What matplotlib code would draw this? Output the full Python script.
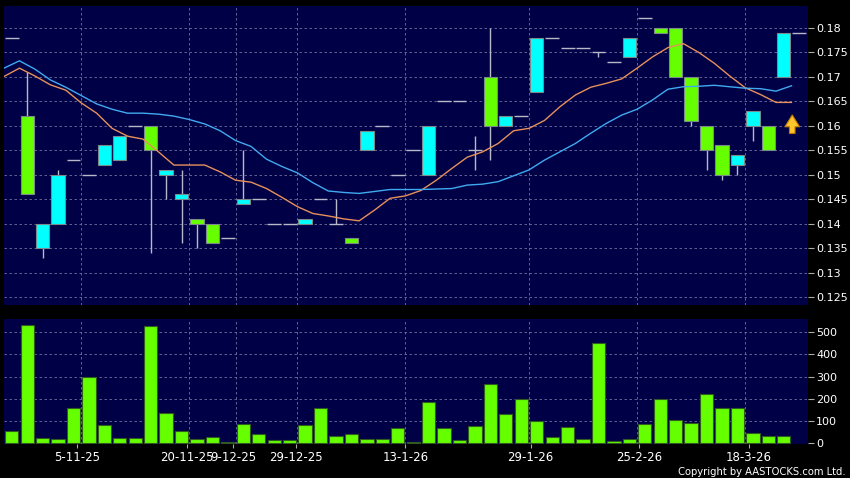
import matplotlib
matplotlib.use("Agg")
import matplotlib.pyplot as plt
import numpy as np

# ---------------- data ----------------
opens = [0.178, 0.162, 0.135, 0.140, 0.153, 0.150, 0.152, 0.153, 0.160, 0.160,
         0.150, 0.145, 0.141, 0.140, 0.137, 0.144, 0.145, 0.140, 0.140, 0.140,
         0.145, 0.140, 0.137, 0.155, 0.160, 0.150, 0.155, 0.150, 0.165, 0.165,
         0.155, 0.170, 0.160, 0.162, 0.167, 0.178, 0.176, 0.176, 0.175, 0.173,
         0.174, 0.182, 0.180, 0.180, 0.170, 0.160, 0.156, 0.152, 0.160, 0.160,
         0.170, 0.179]
highs = [0.178, 0.171, 0.140, 0.151, 0.153, 0.150, 0.156, 0.158, 0.160, 0.160,
         0.151, 0.151, 0.141, 0.140, 0.137, 0.155, 0.145, 0.140, 0.140, 0.141,
         0.145, 0.145, 0.137, 0.159, 0.160, 0.150, 0.155, 0.160, 0.165, 0.165,
         0.158, 0.180, 0.162, 0.162, 0.178, 0.178, 0.176, 0.176, 0.175, 0.173,
         0.178, 0.182, 0.180, 0.180, 0.170, 0.160, 0.156, 0.154, 0.163, 0.160,
         0.179, 0.179]
lows = [0.178, 0.146, 0.133, 0.140, 0.153, 0.150, 0.152, 0.153, 0.160, 0.134,
        0.145, 0.136, 0.135, 0.136, 0.137, 0.144, 0.145, 0.140, 0.140, 0.140,
        0.145, 0.140, 0.136, 0.155, 0.160, 0.150, 0.155, 0.150, 0.165, 0.165,
        0.151, 0.153, 0.160, 0.162, 0.167, 0.178, 0.176, 0.176, 0.174, 0.173,
        0.174, 0.182, 0.179, 0.170, 0.160, 0.151, 0.149, 0.150, 0.157, 0.155,
        0.170, 0.179]
closes = [0.178, 0.146, 0.140, 0.150, 0.153, 0.150, 0.156, 0.158, 0.160, 0.155,
          0.151, 0.146, 0.140, 0.136, 0.137, 0.145, 0.145, 0.140, 0.140, 0.141,
          0.145, 0.140, 0.136, 0.159, 0.160, 0.150, 0.155, 0.160, 0.165, 0.165,
          0.155, 0.160, 0.162, 0.162, 0.178, 0.178, 0.176, 0.176, 0.175, 0.173,
          0.178, 0.182, 0.179, 0.170, 0.161, 0.155, 0.150, 0.154, 0.163, 0.155,
          0.179, 0.179]
volumes = [55, 530, 24, 19, 160, 299, 82, 24, 24, 527,
           135, 55, 19, 28, 6, 87, 40, 15, 15, 82,
           160, 33, 40, 21, 21, 69, 7, 184, 69, 16,
           79, 266, 132, 200, 100, 28, 72, 19, 450, 10,
           19, 87, 200, 105, 93, 223, 160, 160, 48, 33, 33]
# moving averages (sampled between candles, starting half a slot before the first)
ma_short = [0.1701, 0.1718, 0.1702, 0.1684, 0.1673, 0.1647, 0.1626, 0.1595, 0.1579, 0.1573,
            0.1547, 0.1520, 0.1520, 0.1520, 0.1506, 0.1489, 0.1485, 0.1472, 0.1454, 0.1435,
            0.1421, 0.1416, 0.1410, 0.1406, 0.1428, 0.1452, 0.1457, 0.1468, 0.1489, 0.1513,
            0.1536, 0.1547, 0.1564, 0.1590, 0.1595, 0.1611, 0.1639, 0.1663, 0.1679, 0.1687,
            0.1696, 0.1718, 0.1741, 0.1760, 0.1768, 0.1750, 0.1728, 0.1702, 0.1678, 0.1664,
            0.1648, 0.1648]
ma_long = [0.1718, 0.1733, 0.1716, 0.1694, 0.1679, 0.1662, 0.1645, 0.1634, 0.1626, 0.1626,
           0.1624, 0.1620, 0.1613, 0.1604, 0.1590, 0.1570, 0.1558, 0.1532, 0.1517, 0.1504,
           0.1484, 0.1467, 0.1464, 0.1462, 0.1466, 0.1470, 0.1470, 0.1470, 0.1471, 0.1472,
           0.1479, 0.1481, 0.1486, 0.1498, 0.1510, 0.1530, 0.1547, 0.1564, 0.1585, 0.1605,
           0.1622, 0.1634, 0.1653, 0.1675, 0.1680, 0.1681, 0.1683, 0.1680, 0.1677, 0.1676,
           0.1671, 0.1682]
date_labels = ["5-11-25", "20-11-25", "9-12-25", "29-12-25", "13-1-26", "29-1-26", "25-2-26", "18-3-26"]
date_pos = [4.25, 11.37, 14.35, 18.43, 25.49, 33.6, 40.63, 47.73]
grid_pos = [4.5, 11.5, 14.5, 18.5, 25.5, 33.5, 40.5, 47.5]
price_ticks = [0.125, 0.13, 0.135, 0.14, 0.145, 0.15, 0.155, 0.16, 0.165, 0.17, 0.175, 0.18]
price_tick_labels = ["0.125", "0.13", "0.135", "0.14", "0.145", "0.15", "0.155", "0.16",
                     "0.165", "0.17", "0.175", "0.18"]
vol_ticks = [0, 100, 200, 300, 400, 500]

# ---------------- style ----------------
BG = "#000046"
UP = "#00ffff"
DOWN = "#66ff00"
GRID = "#70709e"
TXT = "#ffffff"

fig = plt.figure(figsize=(8.5, 4.78), dpi=100, facecolor="black")
axp = fig.add_axes([4/850, 1-305/478, 803.7/850, 299/478], facecolor=BG)
axv = fig.add_axes([4/850, 1-444/478, 803.7/850, 124.7/478], facecolor=BG)

for ax in (axp, axv):
    for s in ax.spines.values():
        s.set_visible(False)
    ax.set_xlim(-0.5, 51.55)
    for g in grid_pos:
        ax.axvline(g, color=GRID, lw=0.6, ls=(0, (3, 3)), zorder=0)
    ax.yaxis.tick_right()
    ax.tick_params(axis="y", colors="#aaaaaa", labelcolor=TXT, length=4, width=0.8,
                   labelsize=8, pad=2)

# price panel
n = len(opens)
x = np.arange(n)
for p in price_ticks:
    axp.axhline(p, color=GRID, lw=0.6, ls=(0, (3, 3)), zorder=0)
axp.vlines(x, lows, highs, color="#b8b8c8", lw=1.0, zorder=2)
for i in range(n):
    o, c = opens[i], closes[i]
    if abs(c - o) < 1e-9:
        axp.hlines(o, i - 0.45, i + 0.45, color="#b8b8c8", lw=1.0, zorder=3)
    else:
        col = UP if c > o else DOWN
        axp.bar(i, abs(c - o), bottom=min(o, c), width=0.86, color=col,
                edgecolor="#7a8a8a", lw=0.8, zorder=3)
ma_x = np.arange(len(ma_short)) - 0.5
axp.plot(ma_x, ma_short, color="#e8905a", lw=1.0, zorder=4)
axp.plot(ma_x, ma_long, color="#40aaf0", lw=1.0, zorder=4)
axp.annotate("", xy=(50.55, 0.1628), xytext=(50.55, 0.1579),
             arrowprops=dict(arrowstyle="simple,head_width=1.05,head_length=0.85,tail_width=0.4",
                             fc="#ffc52a", ec="#c07a00", lw=0.8, mutation_scale=10),
             zorder=5)
axp.set_ylim(0.1234, 0.1845)
axp.set_yticks(price_ticks)
axp.set_yticklabels(price_tick_labels)
axp.set_xticks([])

# volume panel
for v in vol_ticks[1:]:
    axv.axhline(v, color=GRID, lw=0.6, ls=(0, (3, 3)), zorder=0)
axv.bar(np.arange(len(volumes)), volumes, width=0.86, color=DOWN,
        edgecolor="#2f5a20", lw=0.8, zorder=3)
axv.set_ylim(-3, 557)
axv.set_yticks(vol_ticks)
axv.set_xticks(date_pos)
axv.set_xticklabels(date_labels)
axv.tick_params(axis="x", colors="#aaaaaa", labelcolor=TXT, length=3, width=0.8,
                labelsize=8.5, pad=2)

fig.text(0.995, 0.013, "Copyright by AASTOCKS.com Ltd.", color=TXT, fontsize=8,
         fontstretch="condensed", ha="right", va="center")

fig.savefig("out.png", dpi=100, facecolor="black")
